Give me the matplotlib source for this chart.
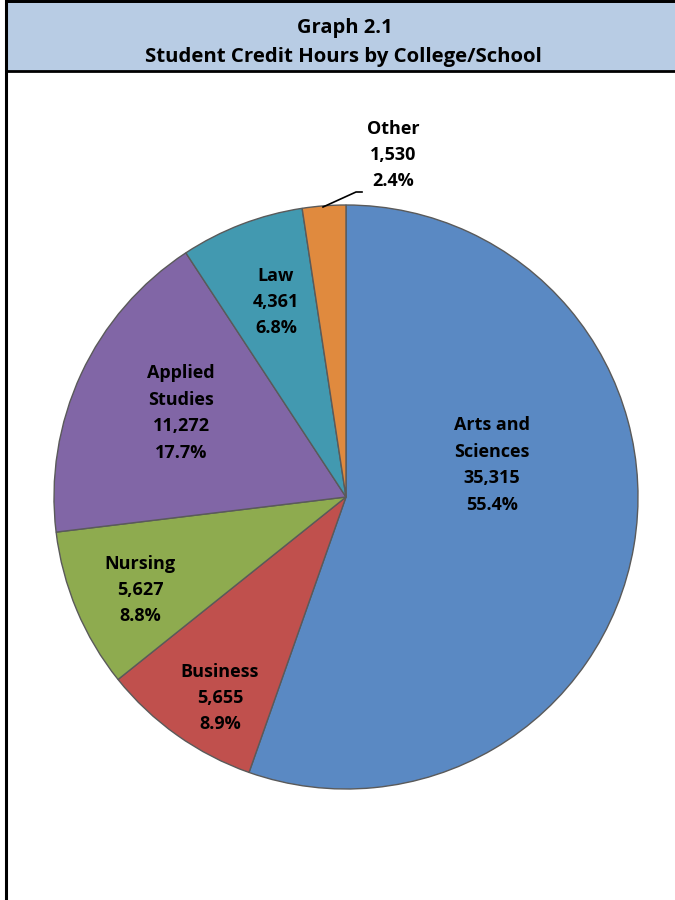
import matplotlib
matplotlib.use("Agg")
import matplotlib.pyplot as plt
from matplotlib.patches import Rectangle

categories = ["Arts and\nSciences", "Business", "Nursing", "Applied\nStudies", "Law", "Other"]
values = [35315, 5655, 5627, 11272, 4361, 1530]
percents = ["55.4%", "8.9%", "8.8%", "17.7%", "6.8%", "2.4%"]
value_labels = ["35,315", "5,655", "5,627", "11,272", "4,361", "1,530"]
colors = ["#5A89C3", "#C0504D", "#8EAB4F", "#8166A6", "#4299B0", "#E08A3E"]

W, H = 675, 900
fig = plt.figure(figsize=(6.75, 9), dpi=100)
ax = fig.add_axes([0, 0, 1, 1])
ax.set_xlim(0, W)
ax.set_ylim(0, H)
ax.set_aspect("equal")
ax.axis("off")

FONT = ["Open Sans", "DejaVu Sans"]

# header box
ax.add_patch(Rectangle((6, H - 71), W - 6 + 5, 70, facecolor="#B8CCE4",
                       edgecolor="black", linewidth=2, zorder=1, clip_on=False))
ax.plot([6, 6], [0, H - 1], color="black", linewidth=2.2, zorder=2)
ax.plot([6, W], [H - 1, H - 1], color="black", linewidth=2, zorder=2)
ax.text(345, H - 28, "Graph 2.1", ha="center", va="center", fontsize=14.5,
        fontweight="bold", family=FONT)
ax.text(343, H - 57, "Student Credit Hours by College/School", ha="center",
        va="center", fontsize=14.7, fontweight="bold", family=FONT)

cx, cy, r = 346, H - 497, 292
wedges, _ = ax.pie(values, colors=colors, startangle=90, counterclock=False,
                   center=(cx, cy), radius=r, frame=True,
                   wedgeprops=dict(edgecolor="#5A5A5A", linewidth=1.0))
ax.set_xlim(0, W)
ax.set_ylim(0, H)
ax.axis("off")

label_pos = [(492, 465), (220, 698), (140, 590), (181, 413), (276, 302), (393, 155)]
for cat, val, pct, (px, py) in zip(categories, value_labels, percents, label_pos):
    txt = f"{cat}\n{val}\n{pct}"
    ax.text(px, H - py, txt, ha="center", va="center", fontsize=13,
            fontweight="bold", family=FONT, linespacing=1.6)

# leader line for Other
ax.plot([362, 356, 323], [H - 192, H - 192, H - 207], color="black", linewidth=1.2)

fig.savefig("out.png", dpi=100)
